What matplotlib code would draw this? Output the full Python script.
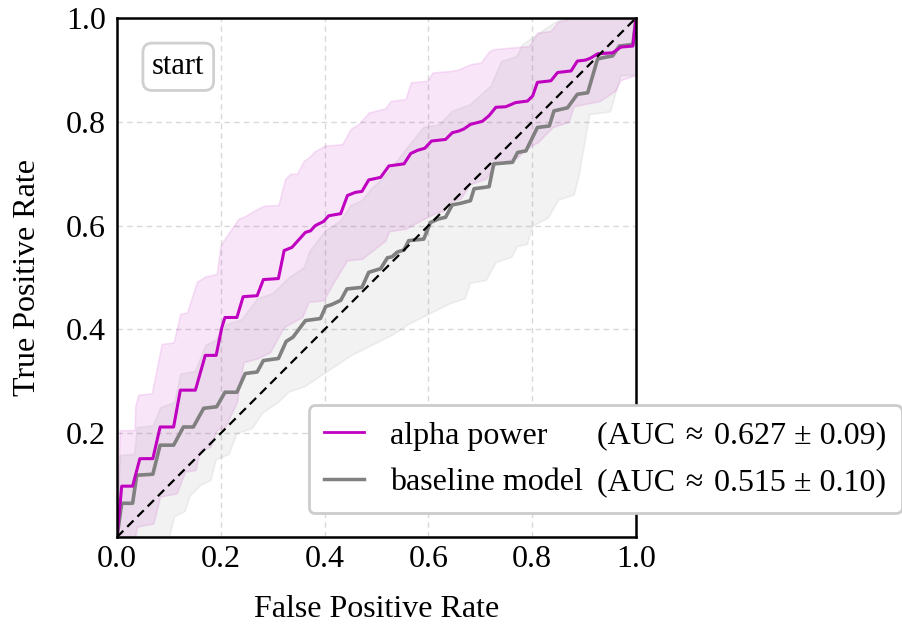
import matplotlib
matplotlib.use('Agg')
import matplotlib.pyplot as plt
import numpy as np
from matplotlib.lines import Line2D

plt.rcParams['font.family'] = ['Liberation Serif', 'DejaVu Serif']

# mean ROC of the alpha power model (fpr, tpr vertices)
alpha_fpr = [0.0, 0.009, 0.030, 0.044, 0.069, 0.083, 0.109, 0.122, 0.151, 0.170, 0.191, 0.202, 0.208,
             0.231, 0.243, 0.270, 0.282, 0.311, 0.322, 0.337, 0.363, 0.373, 0.382, 0.398, 0.408, 0.431,
             0.444, 0.459, 0.472, 0.485, 0.508, 0.524, 0.553, 0.566, 0.579, 0.593, 0.606, 0.633, 0.646,
             0.658, 0.668, 0.681, 0.704, 0.717, 0.730, 0.749, 0.768, 0.791, 0.801, 0.810, 0.836, 0.849,
             0.875, 0.887, 0.903, 0.913, 0.926, 0.955, 0.971, 0.994, 1.0]
alpha_tpr = [0.0, 0.098, 0.098, 0.151, 0.151, 0.212, 0.212, 0.283, 0.283, 0.350, 0.350, 0.404, 0.423,
             0.423, 0.463, 0.465, 0.496, 0.498, 0.552, 0.558, 0.587, 0.590, 0.600, 0.608, 0.619, 0.623,
             0.658, 0.664, 0.666, 0.688, 0.693, 0.715, 0.719, 0.739, 0.745, 0.749, 0.763, 0.766, 0.779,
             0.782, 0.786, 0.795, 0.801, 0.812, 0.828, 0.829, 0.837, 0.840, 0.850, 0.876, 0.879, 0.895,
             0.898, 0.917, 0.919, 0.923, 0.931, 0.933, 0.944, 0.946, 1.0]

# alpha power band (mean +/- std)
alpha_up_fpr = [0.0, 0.005, 0.034, 0.035, 0.041, 0.067, 0.086, 0.109, 0.122, 0.135, 0.154, 0.170, 0.192,
                0.199, 0.205, 0.234, 0.244, 0.270, 0.282, 0.311, 0.324, 0.334, 0.347, 0.360, 0.369, 0.382,
                0.401, 0.434, 0.450, 0.466, 0.485, 0.501, 0.517, 0.527, 0.556, 0.566, 0.598, 0.608, 0.643,
                0.659, 0.681, 0.701, 0.717, 0.726, 0.759, 0.794, 0.810, 0.836, 0.849, 0.874, 1.0]
alpha_up_tpr = [0.0, 0.206, 0.206, 0.252, 0.274, 0.277, 0.372, 0.375, 0.430, 0.433, 0.492, 0.502, 0.507,
                0.559, 0.571, 0.613, 0.617, 0.632, 0.638, 0.640, 0.690, 0.700, 0.700, 0.725, 0.731, 0.744,
                0.754, 0.757, 0.786, 0.796, 0.818, 0.822, 0.826, 0.840, 0.844, 0.876, 0.879, 0.895, 0.898,
                0.901, 0.911, 0.914, 0.936, 0.940, 0.943, 0.946, 0.972, 0.975, 0.992, 1.0, 1.0]
alpha_lo_fpr = [0.0, 0.035, 0.038, 0.070, 0.083, 0.115, 0.131, 0.151, 0.160, 0.180, 0.192, 0.208, 0.231,
                0.237, 0.244, 0.270, 0.295, 0.321, 0.357, 0.369, 0.398, 0.414, 0.443, 0.472, 0.517, 0.524,
                0.556, 0.591, 0.611, 0.630, 0.646, 0.662, 0.680, 0.710, 0.730, 0.770, 0.790, 0.810, 0.840,
                0.870, 0.880, 0.930, 0.960, 0.970, 1.0]
alpha_lo_tpr = [0.0, 0.0, 0.020, 0.026, 0.078, 0.084, 0.126, 0.129, 0.167, 0.174, 0.206, 0.212, 0.260,
                0.302, 0.337, 0.344, 0.356, 0.404, 0.424, 0.453, 0.456, 0.485, 0.533, 0.536, 0.571, 0.589,
                0.594, 0.613, 0.623, 0.629, 0.648, 0.652, 0.680, 0.690, 0.720, 0.730, 0.750, 0.760, 0.790,
                0.800, 0.830, 0.840, 0.860, 0.880, 0.890]

# mean ROC of the baseline model
base_fpr = [0.0, 0.009, 0.030, 0.038, 0.069, 0.083, 0.109, 0.128, 0.147, 0.167, 0.192, 0.208, 0.231,
            0.247, 0.270, 0.282, 0.311, 0.326, 0.339, 0.363, 0.392, 0.402, 0.414, 0.431, 0.443, 0.472,
            0.485, 0.508, 0.521, 0.530, 0.540, 0.553, 0.562, 0.591, 0.604, 0.620, 0.633, 0.646, 0.662,
            0.681, 0.688, 0.717, 0.726, 0.762, 0.772, 0.788, 0.810, 0.833, 0.842, 0.868, 0.887, 0.907,
            0.926, 0.939, 0.955, 0.968, 0.994, 1.0]
base_tpr = [0.0, 0.065, 0.065, 0.119, 0.121, 0.177, 0.177, 0.212, 0.212, 0.248, 0.251, 0.279, 0.279,
            0.315, 0.318, 0.340, 0.344, 0.377, 0.385, 0.417, 0.421, 0.444, 0.448, 0.456, 0.478, 0.481,
            0.510, 0.517, 0.538, 0.540, 0.549, 0.553, 0.571, 0.574, 0.606, 0.613, 0.616, 0.640, 0.643,
            0.648, 0.671, 0.675, 0.719, 0.722, 0.741, 0.744, 0.789, 0.792, 0.821, 0.827, 0.853, 0.856,
            0.921, 0.924, 0.927, 0.946, 0.949, 1.0]

# baseline band (mean +/- std)
base_up_fpr = [0.0, 0.005, 0.033, 0.038, 0.069, 0.083, 0.110, 0.122, 0.150, 0.170, 0.190, 0.200, 0.210,
               0.240, 0.270, 0.300, 0.330, 0.360, 0.370, 0.400, 0.430, 0.450, 0.470, 0.490, 0.520, 0.550,
               0.590, 0.620, 0.645, 0.680, 0.720, 0.740, 0.770, 0.780, 0.840, 0.860, 1.0]
base_up_tpr = [0.0, 0.158, 0.160, 0.212, 0.215, 0.250, 0.260, 0.315, 0.320, 0.370, 0.380, 0.400, 0.410,
               0.420, 0.460, 0.470, 0.500, 0.520, 0.550, 0.590, 0.610, 0.640, 0.648, 0.672, 0.700, 0.740,
               0.790, 0.795, 0.821, 0.834, 0.870, 0.917, 0.927, 0.949, 0.990, 1.0, 1.0]
base_lo_fpr = [0.0, 0.100, 0.110, 0.130, 0.140, 0.160, 0.180, 0.190, 0.215, 0.230, 0.260, 0.280, 0.310,
               0.330, 0.360, 0.390, 0.420, 0.450, 0.490, 0.530, 0.560, 0.600, 0.640, 0.670, 0.680, 0.710,
               0.730, 0.760, 0.770, 0.790, 0.800, 0.830, 0.850, 0.880, 0.890, 0.910, 0.950, 0.970, 1.0]
base_lo_tpr = [0.0, 0.0, 0.040, 0.050, 0.080, 0.100, 0.110, 0.150, 0.160, 0.200, 0.210, 0.240, 0.260,
               0.280, 0.290, 0.310, 0.330, 0.350, 0.370, 0.390, 0.410, 0.430, 0.450, 0.460, 0.490, 0.495,
               0.530, 0.540, 0.560, 0.565, 0.600, 0.615, 0.650, 0.660, 0.700, 0.815, 0.820, 0.890, 0.890]

labels = ['alpha power', 'baseline model']
auc_text = ['(AUC \u200a\u2248\u200a 0.627 \u00b1 0.09)', '(AUC \u200a\u2248\u200a 0.515 \u00b1 0.10)']
colors = ['#c000c0', 'grey']
ticks = [0.0, 0.2, 0.4, 0.6, 0.8, 1.0]


def band(ax, fpr_up, tpr_up, fpr_lo, tpr_lo, color):
    # put both edges on one grid so fill_between can use them
    grid = np.unique(np.concatenate([fpr_up, fpr_lo]))
    up = np.interp(grid, fpr_up, tpr_up)
    lo = np.interp(grid, fpr_lo, tpr_lo)
    ax.fill_between(grid, lo, up, color=color, alpha=0.1, lw=1.2)


fig = plt.figure(figsize=(9.03, 6.27), dpi=100)
ax = fig.add_axes([0.1296, 0.1435, 0.5747, 0.8278])

band(ax, alpha_up_fpr, alpha_up_tpr, alpha_lo_fpr, alpha_lo_tpr, colors[0])
band(ax, base_up_fpr, base_up_tpr, base_lo_fpr, base_lo_tpr, colors[1])
ax.plot(base_fpr, base_tpr, color=colors[1], lw=2.6)
ax.plot(alpha_fpr, alpha_tpr, color=colors[0], lw=2.2)
ax.plot([0, 1], [0, 1], color='black', ls='--', lw=1.6, dashes=(4, 2.5))

ax.set_xlim(0, 1)
ax.set_ylim(0, 1)
ax.set_xticks(ticks)
ax.set_yticks(ticks[1:])
ax.tick_params(length=0, labelsize=23)
ax.tick_params(axis='x', pad=6)
ax.tick_params(axis='y', pad=8)
ax.grid(True, ls=(0, (4, 3)), color='#d9d9d9', lw=1)
ax.set_axisbelow(True)
for s in ax.spines.values():
    s.set_linewidth(1.8)
    s.set_color('black')

ax.set_xlabel('False Positive Rate', fontsize=23, labelpad=15)
ax.set_ylabel('True Positive Rate', fontsize=23, labelpad=17)

ax.text(0.118, 0.906, 'start', transform=ax.transAxes, fontsize=22, ha='center', va='center',
        bbox=dict(boxstyle='round,pad=0.3', fc='white', ec='#d0d0d0', lw=2))

# second legend column holds the AUC text, so its handles are blank
blank = Line2D([], [], linestyle='none')
handles = [Line2D([], [], color=colors[0], lw=2), Line2D([], [], color=colors[1], lw=2.5), blank, blank]
leg = ax.legend(handles, labels + auc_text, ncol=2, loc='lower left', bbox_to_anchor=(0.369, 0.046),
                borderaxespad=0, fontsize=23, handlelength=1.25, handletextpad=0.8,
                columnspacing=-1.62, labelspacing=0.54, framealpha=1, fancybox=True, borderpad=0.5)
leg.get_frame().set_edgecolor('#cccccc')
leg.get_frame().set_linewidth(2)

fig.savefig('out.png', dpi=100)
